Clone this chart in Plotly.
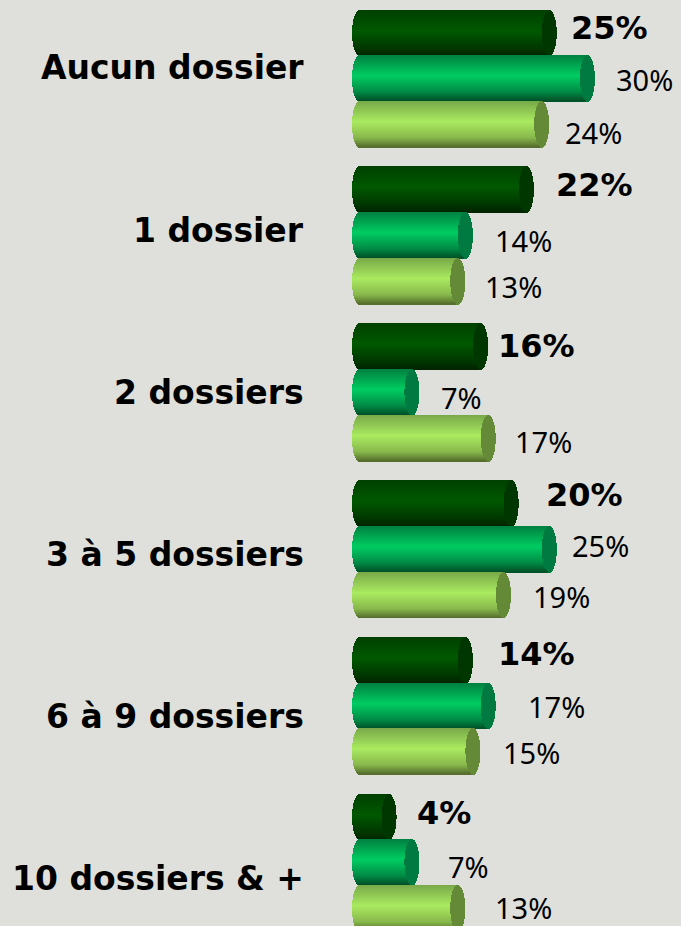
import math
import plotly.graph_objects as go

categories = ["Aucun dossier", "1 dossier", "2 dossiers", "3 à 5 dossiers", "6 à 9 dossiers", "10 dossiers & +"]
serie_a = [25, 22, 16, 20, 14, 4]
serie_b = [30, 14, 7, 25, 17, 7]
serie_c = [24, 13, 17, 19, 15, 13]
series = [serie_a, serie_b, serie_c]

W, H = 681, 926
PX_PER_UNIT = 7.63
ZERO_PX = 366
PERIOD_PX = 156.8
FIRST_CENTER_PX = 78.5
BAR_PX = 46
BAR_STEP = 45.8
RADIUS_PX = 7.5
BG = "#dfe0db"
STYLES = [
    {"stops": [(0, "#004000"), (0.45, "#005800"), (0.8, "#003a00"), (1, "#002400")], "cap": "#003600", "bold": True},
    {"stops": [(0, "#008040"), (0.45, "#00cc62"), (0.8, "#008a45"), (1, "#004f26")], "cap": "#007a40", "bold": False},
    {"stops": [(0, "#78a848"), (0.45, "#aaea60"), (0.8, "#88b84c"), (1, "#546c2c")], "cap": "#648a38", "bold": False},
]
# label nudges in pixels from each bar's end, and from its centre
X_SHIFT = [[12, 19, 14], [20, 20, 18], [8, 20, 17], [25, 13, 20], [23, 30, 21], [18, 27, 28]]
Y_SHIFT = [[-5, 1, 8], [-5, 5, 5], [0, 5, 4], [-8, -3, 2], [-6, 1, 1], [-4, 4, -1]]
LABEL_Y_PX = [68 + 162 * i for i in range(len(categories))]


def hex_rgb(c):
    return [int(c[i:i + 2], 16) for i in (1, 3, 5)]


def gradient(stops, t):
    for (t0, c0), (t1, c1) in zip(stops, stops[1:]):
        if t <= t1:
            f = (t - t0) / (t1 - t0)
            a, b = hex_rgb(c0), hex_rgb(c1)
            return "rgb(%d,%d,%d)" % tuple(round(a[k] + (b[k] - a[k]) * f) for k in range(3))
    return stops[-1][1]


fig = go.Figure()
unit_y = 1 / PERIOD_PX
r_units = RADIUS_PX / PX_PER_UNIT
left_edge = (352 - ZERO_PX) / PX_PER_UNIT

for s, values in enumerate(series):
    style = STYLES[s]
    group_offset = (-68.5 + s * BAR_STEP) * unit_y
    for k in range(BAR_PX):
        t = (k + 0.5) / BAR_PX
        half = r_units * math.sqrt(max(0, 1 - (2 * t - 1) ** 2))
        common = dict(
            y=categories, orientation="h", width=unit_y,
            offset=group_offset + k * unit_y, hoverinfo="skip", showlegend=False,
        )
        # cylinder body, from the curved back to the far rim
        bases = [left_edge + r_units - half for _ in values]
        fig.add_bar(
            x=[v - r_units + half - b for v, b in zip(values, bases)], base=bases,
            marker=dict(color=gradient(style["stops"], t), line_width=0), **common,
        )
        # end cap
        fig.add_bar(
            x=[2 * half for _ in values], base=[v - r_units - half for v in values],
            marker=dict(color=style["cap"], line_width=0), **common,
        )

annotations = []
for i, cat in enumerate(categories):
    annotations.append(dict(
        x=306 / W, xref="paper", xanchor="right", y=1 - LABEL_Y_PX[i] / H, yref="paper", yanchor="middle",
        text="<b>%s</b>" % cat, showarrow=False,
        font=dict(family="DejaVu Sans", size=33, color="#000000"),
    ))
    for s, values in enumerate(series):
        v = values[i]
        bold = STYLES[s]["bold"]
        annotations.append(dict(
            x=v, xref="x", xanchor="left", xshift=X_SHIFT[i][s],
            y=cat, yref="y", yanchor="middle",
            yshift=-(-45.8 + s * BAR_STEP) - Y_SHIFT[i][s],
            text=("<b>%d%%</b>" if bold else "%d%%") % v, showarrow=False,
            font=dict(family="DejaVu Sans" if bold else "Noto Sans", size=32 if bold else 29, color="#000000"),
        ))

fig.update_layout(
    width=W, height=H, autosize=False, barmode="overlay", bargap=0,
    margin=dict(l=0, r=0, t=0, b=0), paper_bgcolor=BG, plot_bgcolor=BG, showlegend=False,
    xaxis=dict(range=[-ZERO_PX / PX_PER_UNIT, (W - ZERO_PX) / PX_PER_UNIT], visible=False, fixedrange=True),
    yaxis=dict(
        type="category", categoryorder="array", categoryarray=categories, visible=False, fixedrange=True,
        range=[(H - FIRST_CENTER_PX) / PERIOD_PX, -FIRST_CENTER_PX / PERIOD_PX],
    ),
    annotations=annotations,
)
fig.write_html(
    "out.html",
    config={"displayModeBar": False},
    post_script="document.documentElement.style.overflow='hidden';document.body.style.margin='0';document.body.style.background='%s';" % BG,
)
